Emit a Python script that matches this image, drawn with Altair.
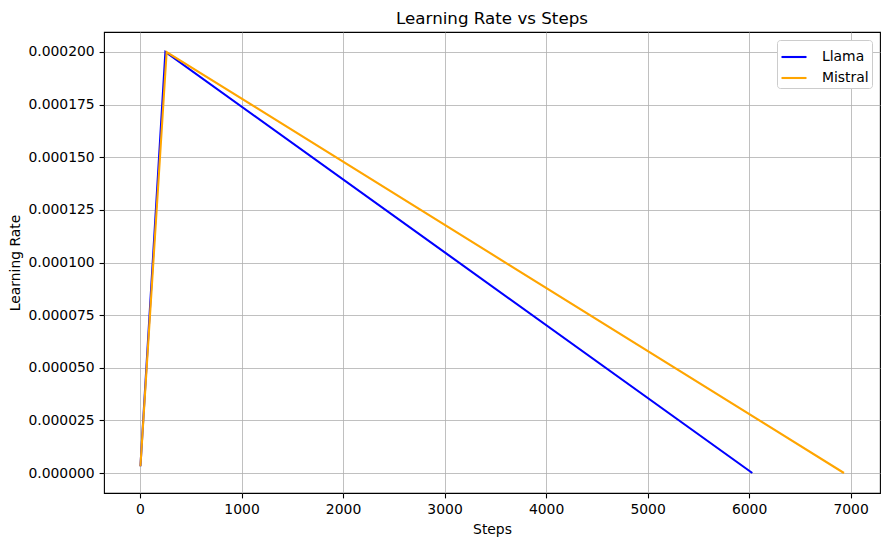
import altair as alt
import pandas as pd

llama_steps = [4, 250, 6032]
llama_lr = [0.0000032, 0.0002, 0.0]
mistral_steps = [4, 262, 6935]
mistral_lr = [0.0000032, 0.0002, 0.0]

rows = []
for s, v in zip(llama_steps, llama_lr):
    rows.append({"Steps": s, "LR": v, "Model": "Llama"})
for s, v in zip(mistral_steps, mistral_lr):
    rows.append({"Steps": s, "LR": v, "Model": "Mistral"})
df = pd.DataFrame(rows)

x_ticks = [0, 1000, 2000, 3000, 4000, 5000, 6000, 7000]
y_ticks = [0.0, 0.000025, 0.00005, 0.000075, 0.0001, 0.000125, 0.00015, 0.000175, 0.0002]

font = "DejaVu Sans"

chart = alt.Chart(df).mark_line(strokeWidth=2.1, clip=True).encode(
    x=alt.X("Steps:Q", scale=alt.Scale(domain=[-355, 7290], nice=False, zero=False),
            axis=alt.Axis(values=x_ticks, title="Steps", format="d")),
    y=alt.Y("LR:Q", scale=alt.Scale(domain=[-0.0000095, 0.0002095], nice=False, zero=False),
            axis=alt.Axis(values=y_ticks, title="Learning Rate", format=".6f")),
    color=alt.Color("Model:N",
                    scale=alt.Scale(domain=["Llama", "Mistral"], range=["#0000ff", "#ffa500"]),
                    legend=alt.Legend(title=None, orient="none", legendX=673, legendY=8,
                                      symbolType="stroke", symbolSize=625, symbolStrokeWidth=2.1,
                                      labelFont=font, labelFontSize=13.9, labelColor="black",
                                      fillColor="white", strokeColor="#cccccc", cornerRadius=3,
                                      padding=3, rowPadding=-4.5, labelOffset=14)),
    order="Steps:Q",
).properties(
    width=776, height=461,
    title=alt.TitleParams("Learning Rate vs Steps", font=font, fontSize=16.7,
                          fontWeight="normal", color="black", offset=4),
    autosize=alt.AutoSizeParams(type="none"),
    padding={"left": 96, "top": 24, "right": 2, "bottom": 46},
).configure_view(
    stroke="black", strokeWidth=1.1
).configure_axis(
    grid=True, gridColor="#b0b0b0", gridWidth=0.8,
    domain=False, tickColor="black", tickSize=4.9, tickWidth=1.1,
    labelFont=font, labelFontSize=13.9, labelColor="black", labelPadding=4.9,
    titleFont=font, titleFontSize=13.9, titleFontWeight="normal", titleColor="black",
).configure_axisX(titlePadding=6).configure_axisY(titlePadding=5)

chart.save("out.html", embed_options={"renderer": "svg", "actions": False})
